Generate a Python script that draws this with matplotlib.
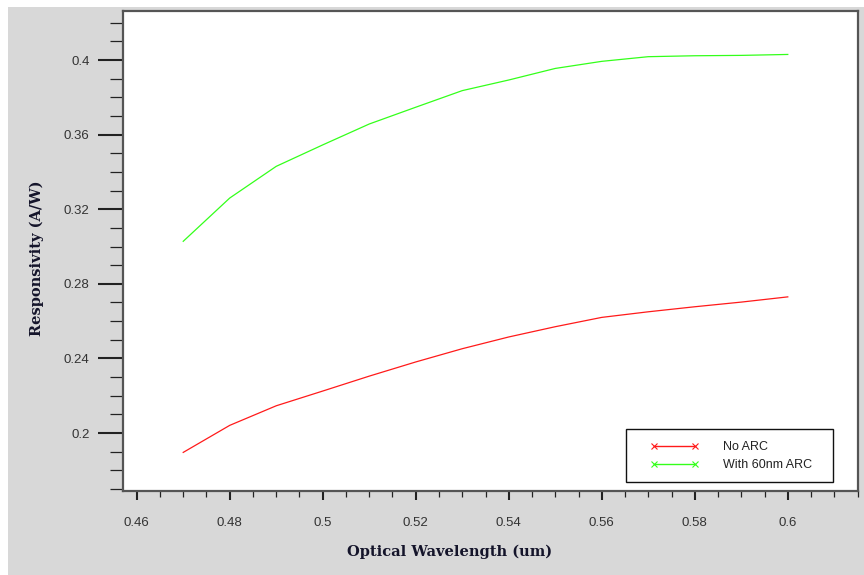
#!/usr/bin/env python3
# Responsivity vs optical wavelength, with and without a 60 nm anti-reflection coating.
import matplotlib
matplotlib.use("Agg")
import matplotlib.pyplot as plt
from matplotlib.lines import Line2D
from matplotlib.patches import Rectangle
from matplotlib.ticker import MultipleLocator, FuncFormatter

wavelength = [0.47, 0.48, 0.49, 0.50, 0.51, 0.52, 0.53, 0.54, 0.55, 0.56, 0.57, 0.58, 0.59, 0.60]
resp_no_arc = [0.1896, 0.2041, 0.2146, 0.2225, 0.2305, 0.2381, 0.2452, 0.2515, 0.2570, 0.2620,
               0.2650, 0.2677, 0.2702, 0.2730]
resp_arc60 = [0.3028, 0.3260, 0.3430, 0.3545, 0.3657, 0.3747, 0.3836, 0.3893, 0.3955, 0.3993,
              0.4018, 0.4023, 0.4025, 0.4030]
series_labels = ["No ARC", "With 60nm ARC"]
series_colors = ["#ff1a1a", "#33ff1a"]

W, H, DPI = 864, 575, 100
fig = plt.figure(figsize=(W / DPI, H / DPI), dpi=DPI, facecolor="white")
# grey panel behind the plot
fig.patches.append(Rectangle((8 / W, 0), 1 - 8 / W, 1 - 7 / H, transform=fig.transFigure,
                             facecolor="#d8d8d8", edgecolor="none", zorder=-10))

ax = fig.add_axes([123 / W, 1 - 491 / H, (858 - 123) / W, (491 - 11) / H])
ax.set_facecolor("white")

ax.plot(wavelength, resp_no_arc, color=series_colors[0], lw=0.9)
ax.plot(wavelength, resp_arc60, color=series_colors[1], lw=0.9)

ax.set_xlim(0.45705, 0.6151)
ax.set_ylim(0.1689, 0.4263)

fmt = FuncFormatter(lambda v, p: f"{round(v, 4):g}")
ax.xaxis.set_major_locator(MultipleLocator(0.02))
ax.xaxis.set_minor_locator(MultipleLocator(0.005))
ax.yaxis.set_major_locator(MultipleLocator(0.04))
ax.yaxis.set_minor_locator(MultipleLocator(0.01))
ax.xaxis.set_major_formatter(fmt)
ax.yaxis.set_major_formatter(fmt)

for s in ax.spines.values():
    s.set_color("#555555")
    s.set_linewidth(1.6)

ax.tick_params(axis="x", which="major", direction="out", length=6.5, width=1.5,
               pad=12, labelsize=9.5, labelcolor="#333333", color="#222222")
ax.tick_params(axis="x", which="minor", direction="out", length=4, width=0.9, color="#222222")
ax.tick_params(axis="y", which="major", direction="out", length=18, width=1.5,
               pad=6, labelsize=9.5, labelcolor="#333333", color="#222222")
ax.tick_params(axis="y", which="minor", direction="out", length=9.5, width=0.9, color="#222222")
for lab in ax.get_xticklabels() + ax.get_yticklabels():
    lab.set_family("Liberation Sans")

label_font = dict(family="DejaVu Serif", weight="bold", size=10.5, color="#14142a")
fig.text(450 / W, 1 - 552 / H, "Optical Wavelength (um)", ha="center", va="center", **label_font)
fig.text(37 / W, 1 - 258 / H, "Responsivity (A/W)", ha="center", va="center",
         rotation=90, **label_font)

# legend box drawn separately so the inner padding can be wider than tall
ax.add_patch(Rectangle((626 / W, 1 - 482 / H), 207 / W, 53 / H, transform=fig.transFigure,
                       facecolor="white", edgecolor="#111111", lw=1.0, zorder=4, clip_on=False))
handles = [Line2D([0], [0], color=c, lw=1.0, marker="x", markersize=4, markeredgewidth=0.8)
           for c in series_colors]
leg = ax.legend(handles, series_labels, loc="upper left",
                bbox_to_anchor=(650 / W, 1 - 441.5 / H), bbox_transform=fig.transFigure,
                prop={"family": "Liberation Sans", "size": 9}, numpoints=2,
                handlelength=3.9, handletextpad=1.95, labelspacing=0.47,
                borderpad=0, borderaxespad=0, frameon=False)
leg.set_zorder(6)
for t in leg.get_texts():
    t.set_color("#222222")

fig.savefig("out.png", dpi=DPI, facecolor="white")
